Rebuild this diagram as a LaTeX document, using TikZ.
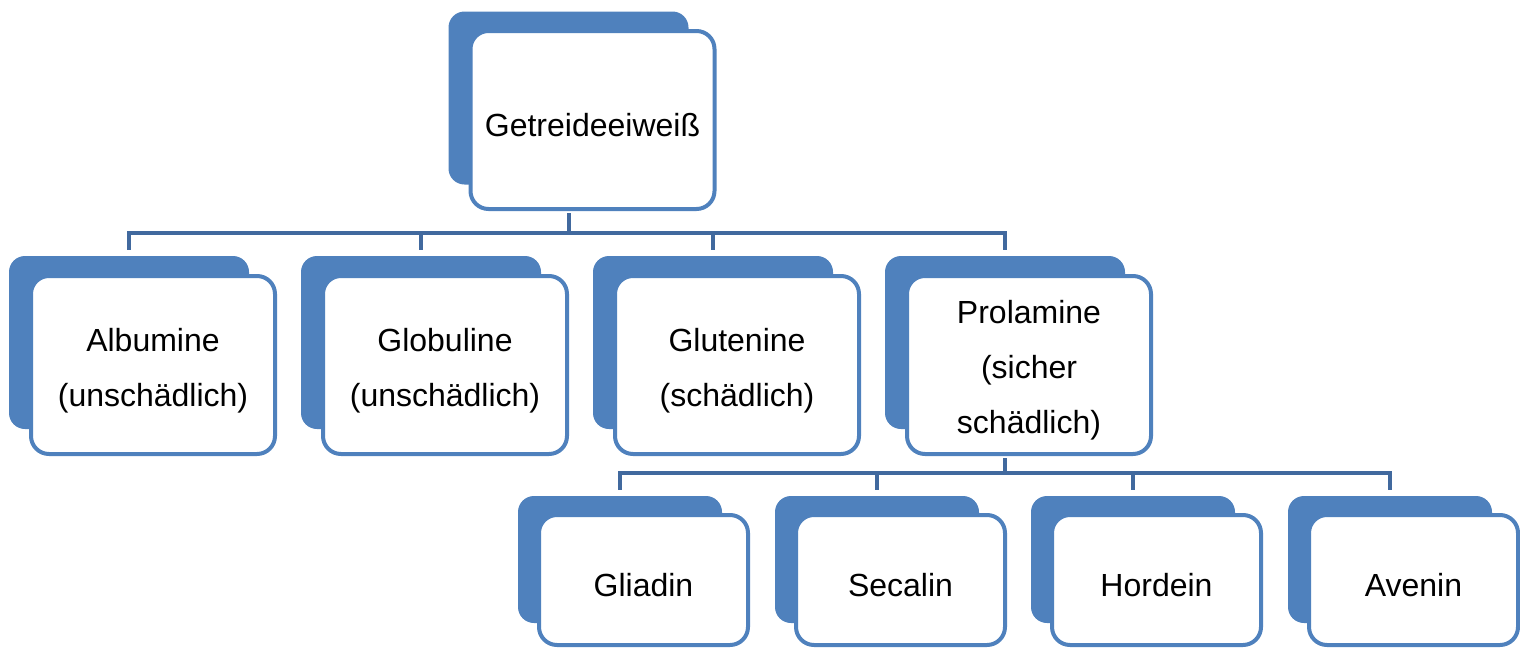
\documentclass[tikz,border=0pt]{standalone}
\usepackage{fontspec}
\setmainfont{Liberation Sans}
\usepackage{xcolor}
\usetikzlibrary{positioning}
\definecolor{boxblue}{HTML}{4F81BD}
\definecolor{linkblue}{HTML}{41699E}
\newcommand{\topgap}{\rule{0pt}{34pt}}

\begin{document}
\begin{tikzpicture}[x=1pt,y=-1pt,
	back/.style={fill=boxblue, rounded corners=16pt, inner sep=0pt},
	front/.style={draw=boxblue, line width=4pt, fill=white, rounded corners=18pt, inner sep=0pt, align=center, font=\fontsize{32}{55}\selectfont},
	bigback/.style={back, minimum width=240pt, minimum height=173pt},
	bigfront/.style={front, minimum width=244pt, minimum height=178pt},
	smallback/.style={back, minimum width=204pt, minimum height=127pt},
	smallfront/.style={front, minimum width=209pt, minimum height=130pt},
	link/.style={draw=linkblue, line width=4pt}]
			\useasboundingbox (0,0) rectangle (1520,648);
			\coordinate (fork1) at (0,233);
			\coordinate (fork2) at (0,473);
			\node[bigback] (eiweiss-b) at (568.5,98) {};
			\node[bigfront] (eiweiss) at ([shift={(24,22)}]eiweiss-b) {\topgap Getreideeiweiß};
			\node[bigback] (albumine-b) at (129,342.5) {};
			\node[bigfront] (albumine) at ([shift={(24,22.5)}]albumine-b) {\topgap Albumine\\(unschädlich)};
			\node[bigback] (globuline-b) at (421,342.5) {};
			\node[bigfront] (globuline) at ([shift={(24,22.5)}]globuline-b) {\topgap Globuline\\(unschädlich)};
			\node[bigback] (glutenine-b) at (713,342.5) {};
			\node[bigfront] (glutenine) at ([shift={(24,22.5)}]glutenine-b) {\topgap Glutenine\\(schädlich)};
			\node[bigback] (prolamine-b) at (1005,342.5) {};
			\node[bigfront] (prolamine) at ([shift={(24,22.5)}]prolamine-b) {\topgap Prolamine\\(sicher\\schädlich)};
			\node[smallback] (gliadin-b) at (620,559.5) {};
			\node[smallfront] (gliadin) at ([shift={(23.5,20.5)}]gliadin-b) {\topgap Gliadin};
			\node[smallback] (secalin-b) at (877,559.5) {};
			\node[smallfront] (secalin) at ([shift={(23.5,20.5)}]secalin-b) {\topgap Secalin};
			\node[smallback] (hordein-b) at (1133,559.5) {};
			\node[smallfront] (hordein) at ([shift={(23.5,20.5)}]hordein-b) {\topgap Hordein};
			\node[smallback] (avenin-b) at (1390,559.5) {};
			\node[smallfront] (avenin) at ([shift={(23.5,20.5)}]avenin-b) {\topgap Avenin};
			\draw[link] ([yshift=-2pt]eiweiss-b.center |- eiweiss.south) -- (eiweiss-b.center |- fork1);
			\draw[link] ([yshift=6pt]albumine-b.north) |- (prolamine-b.north |- fork1) -- ([yshift=6pt]prolamine-b.north);
			\draw[link] ([yshift=6pt]globuline-b.north) -- (globuline-b.north |- fork1);
			\draw[link] ([yshift=6pt]glutenine-b.north) -- (glutenine-b.north |- fork1);
			\draw[link] ([yshift=-2pt]prolamine-b.center |- prolamine.south) -- (prolamine-b.center |- fork2);
			\draw[link] ([yshift=6pt]gliadin-b.north) |- (avenin-b.north |- fork2) -- ([yshift=6pt]avenin-b.north);
			\draw[link] ([yshift=6pt]secalin-b.north) -- (secalin-b.north |- fork2);
			\draw[link] ([yshift=6pt]hordein-b.north) -- (hordein-b.north |- fork2);
		\end{tikzpicture}
\end{document}
